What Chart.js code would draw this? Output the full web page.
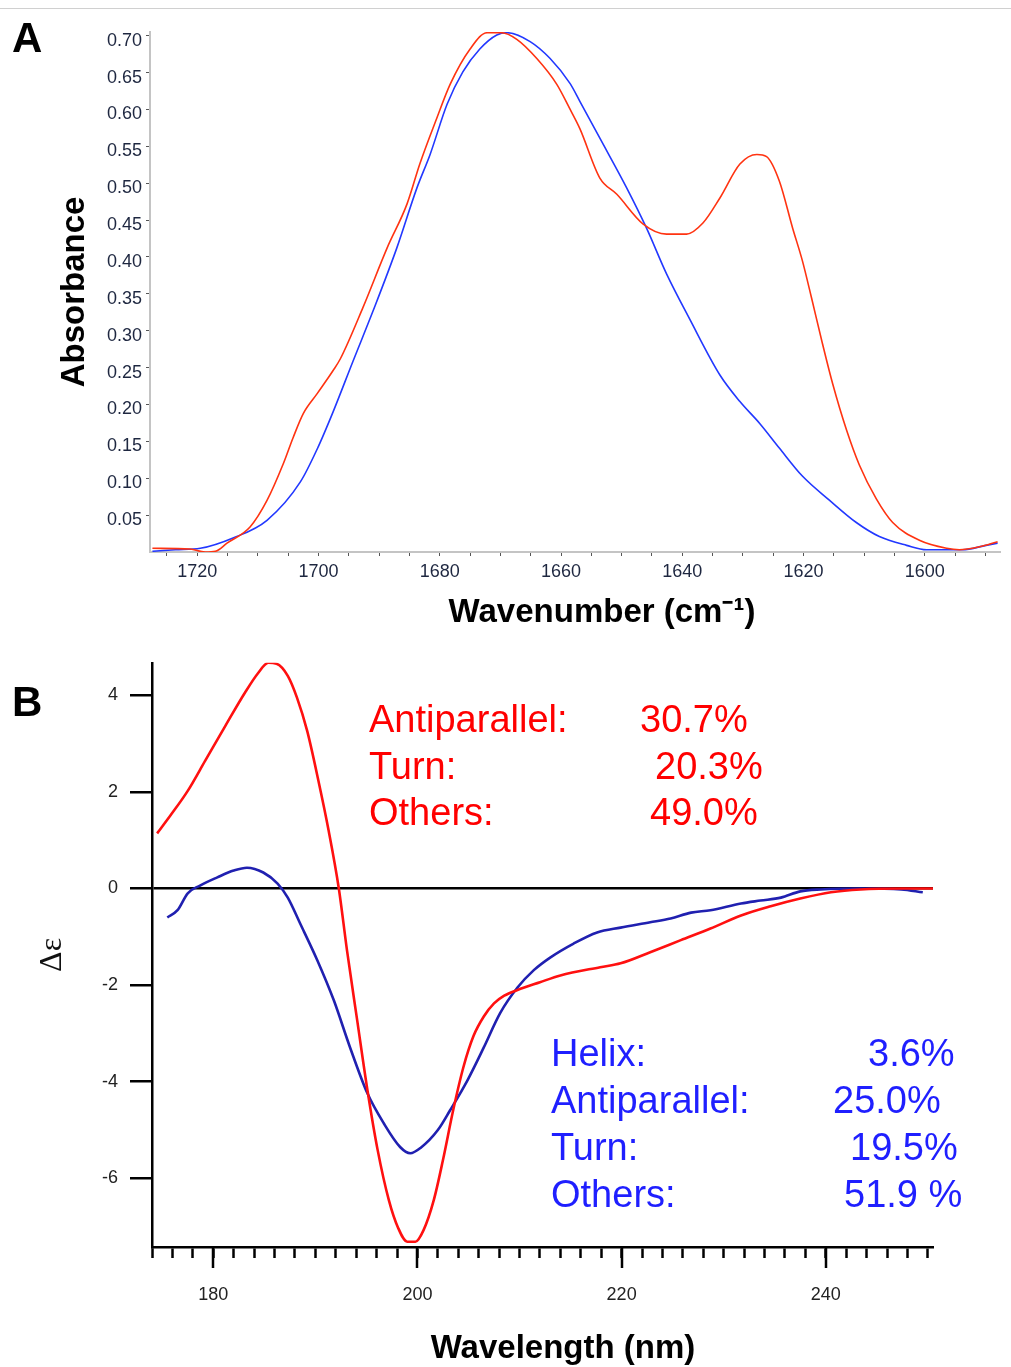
<!DOCTYPE html>
<html>
<head>
<meta charset="utf-8">
<script src="https://cdn.jsdelivr.net/npm/chart.js@4.4.1/dist/chart.umd.min.js"></script>
<style>
  body { margin: 0; background: #fff; width: 1011px; height: 1367px; position: relative; overflow: hidden; }
  .rule { position: absolute; left: 0; top: 8px; width: 1011px; height: 0; border-top: 1.5px solid #d0d0d0; }
  .panel { position: absolute; left: 12px; font: bold 42px "Liberation Sans", Arial, sans-serif; color: #000; }
  #boxA { position: absolute; left: 0; top: 0; width: 1011px; height: 635px; }
  #boxB { position: absolute; left: 0; top: 640px; width: 1011px; height: 727px; }
</style>
</head>
<body>
<div class="rule"></div>
<div id="boxA"><canvas id="irChart" width="1011" height="635"></canvas></div>
<div id="boxB"><canvas id="cdChart" width="1011" height="727"></canvas></div>
<div class="panel" style="top:14px">A</div>
<div class="panel" style="top:678px">B</div>

<script>
// panel A - FTIR amide I
const irRedWavenumber = [1727.4,1721.2,1718.7,1717.0,1715.1,1711.3,1708.5,1705.8,1704.2,1702.5,1700.2,1697.6,1696.4,1692.7,1688.7,1685.4,1683.3,1680.5,1678.3,1675.0,1672.2,1669.8,1667.3,1664.0,1660.7,1658.5,1656.9,1653.6,1650.8,1646.5,1642.6,1639.3,1636.6,1633.8,1630.5,1627.7,1626.1,1624.0,1621.8,1620.2,1618.7,1616.9,1615.2,1612.9,1610.8,1608.0,1605.3,1600.9,1596.4,1594.3,1591.0,1588.0];
const irRedAbs = [0.005,0.004,0.000,0.001,0.012,0.034,0.070,0.120,0.155,0.188,0.215,0.246,0.262,0.331,0.412,0.472,0.526,0.588,0.634,0.682,0.704,0.704,0.695,0.669,0.634,0.600,0.574,0.507,0.485,0.445,0.431,0.431,0.446,0.480,0.526,0.539,0.536,0.503,0.439,0.395,0.345,0.283,0.228,0.165,0.118,0.072,0.040,0.016,0.005,0.003,0.007,0.014];
const irBlueWavenumber = [1727.4,1723.6,1719.5,1714.1,1708.5,1703.0,1700.2,1697.6,1694.3,1691.0,1687.1,1683.8,1681.6,1678.8,1676.2,1673.4,1670.6,1668.9,1665.1,1661.8,1658.5,1656.9,1653.6,1649.2,1645.9,1642.6,1638.8,1633.8,1630.5,1627.2,1624.0,1620.2,1615.7,1611.3,1607.5,1603.0,1599.7,1593.8,1589.9,1588.0];
const irBlueAbs = [0.001,0.003,0.005,0.019,0.043,0.095,0.140,0.190,0.259,0.327,0.412,0.493,0.539,0.607,0.651,0.682,0.701,0.704,0.692,0.669,0.635,0.611,0.561,0.494,0.439,0.377,0.316,0.240,0.204,0.174,0.141,0.103,0.070,0.040,0.021,0.009,0.003,0.003,0.009,0.012];
const irXTicks = [1720, 1700, 1680, 1660, 1640, 1620, 1600];
const irYTicks = [0.05,0.10,0.15,0.20,0.25,0.30,0.35,0.40,0.45,0.50,0.55,0.60,0.65,0.70];

// panel B - CD spectra
const cdRedNm = [174.5,175.8,177.5,179.2,181.2,183.1,184.4,185.4,186.2,187.3,188.2,189.2,190.3,191.3,192.3,193.1,194.1,195.1,196.1,197.2,198.1,199.0,199.8,200.6,201.6,202.5,203.5,204.5,205.5,206.5,207.5,208.5,209.8,212.0,214.0,217.9,219.9,222.8,225.8,228.7,231.7,234.6,237.5,240.5,243.4,247.4,250.5];
const cdRedDelta = [1.14,1.51,2.02,2.64,3.37,4.05,4.46,4.67,4.65,4.40,3.95,3.26,2.23,1.20,0.00,-1.28,-2.73,-4.17,-5.41,-6.45,-7.02,-7.31,-7.31,-7.07,-6.45,-5.62,-4.59,-3.70,-3.05,-2.65,-2.38,-2.22,-2.10,-1.94,-1.80,-1.63,-1.55,-1.32,-1.07,-0.83,-0.56,-0.37,-0.21,-0.08,-0.02,0.00,0.00];
const cdBlueNm = [175.5,176.5,177.5,178.7,180.4,182.0,183.3,184.9,186.3,187.3,188.5,190.2,191.8,193.4,195.1,196.7,198.3,199.3,200.3,202.0,203.2,204.9,206.5,208.1,209.8,211.4,213.0,215.3,217.6,219.9,222.8,224.8,226.8,228.7,231.7,233.6,235.6,237.5,239.5,243.4,247.4,249.5];
const cdBlueDelta = [-0.60,-0.45,-0.10,0.06,0.23,0.37,0.43,0.33,0.10,-0.19,-0.72,-1.49,-2.31,-3.29,-4.24,-4.86,-5.35,-5.48,-5.37,-5.00,-4.59,-3.97,-3.29,-2.58,-2.05,-1.69,-1.43,-1.14,-0.91,-0.81,-0.70,-0.62,-0.50,-0.45,-0.31,-0.25,-0.19,-0.06,-0.02,0.00,-0.02,-0.08];
const cdXMajor = [180, 200, 220, 240];
const cdYTicks = [-6, -4, -2, 0, 2, 4];

const redFitNames = ["Antiparallel:", "Turn:", "Others:"];
const redFitValues = ["30.7%", "20.3%", "49.0%"];
const blueFitNames = ["Helix:", "Antiparallel:", "Turn:", "Others:"];
const blueFitValues = ["3.6%", "25.0%", "19.5%", "51.9 %"];

const SANS = '"Liberation Sans", Arial, sans-serif';
Chart.defaults.font.family = SANS;

function pts(xs, ys) {
  return xs.map((x, i) => ({ x: x, y: ys[i] }));
}

// x-axis title drawn at a set spot (the original is not centred on the plot)
const xTitle = {
  id: 'xTitle',
  afterDraw(chart, args, opts) {
    const ctx = chart.ctx;
    ctx.save();
    ctx.font = 'bold 33px ' + SANS;
    ctx.fillStyle = '#000';
    ctx.textAlign = 'center';
    ctx.textBaseline = 'middle';
    ctx.fillText(opts.text, opts.x, opts.y);
    ctx.restore();
  }
};

// ---------- chart A ----------
new Chart(document.getElementById('irChart'), {
  type: 'line',
  data: {
    datasets: [
      { data: pts(irRedWavenumber, irRedAbs), borderColor: '#ff3311', borderWidth: 1.6,
        pointRadius: 0, cubicInterpolationMode: 'monotone' },
      { data: pts(irBlueWavenumber, irBlueAbs), borderColor: '#2238ff', borderWidth: 1.6,
        pointRadius: 0, cubicInterpolationMode: 'monotone' }
    ]
  },
  options: {
    responsive: false,
    animation: false,
    layout: { padding: { left: 0, right: 11, top: 32, bottom: 0 } },
    plugins: {
      legend: { display: false }, tooltip: { enabled: false },
      xTitle: { text: 'Wavenumber (cm\u207B\u00B9)', x: 602, y: 613 }
    },
    scales: {
      x: {
        type: 'linear',
        reverse: true,
        min: 1587.6,
        max: 1727.8,
        afterFit: s => { s.height = 83; },
        afterBuildTicks: s => {
          const t = [];
          for (let v = 1725; v >= 1590; v -= 5) t.push({ value: v });
          s.ticks = t;
        },
        border: { color: '#c4c4c4', width: 2 },
        grid: { drawOnChartArea: false, tickLength: 4, tickColor: '#555', tickWidth: 1 },
        ticks: {
          autoSkip: false, maxRotation: 0, minRotation: 0, padding: 5,
          color: '#1e2740', font: { size: 18 },
          callback: v => irXTicks.includes(v) ? String(v) : ''
        }
      },
      y: {
        type: 'linear',
        min: 0,
        max: 0.705,
        afterFit: s => { s.width = 150; },
        afterBuildTicks: s => { s.ticks = irYTicks.map(v => ({ value: v })); },
        border: { color: '#c4c4c4', width: 2 },
        grid: { drawOnChartArea: false, tickLength: 4, tickColor: '#555', tickWidth: 1 },
        ticks: {
          padding: 4, labelOffset: 5, color: '#1e2740', font: { size: 18 },
          callback: v => v.toFixed(2)
        },
        title: {
          display: true, text: 'Absorbance', color: '#000',
          font: { size: 33, weight: 'bold' }, padding: { top: 55, bottom: 0 }
        }
      }
    }
  },
  plugins: [xTitle]
});

// ---------- chart B ----------
const cdExtras = {
  id: 'cdExtras',
  afterDraw(chart) {
    const ctx = chart.ctx;
    const xs = chart.scales.x;
    const area = chart.chartArea;
    ctx.save();
    // long ticks at the labelled wavelengths
    ctx.strokeStyle = '#000';
    ctx.lineWidth = 2.5;
    cdXMajor.forEach(v => {
      const px = Math.round(xs.getPixelForValue(v));
      ctx.beginPath();
      ctx.moveTo(px, area.bottom);
      ctx.lineTo(px, area.bottom + 21);
      ctx.stroke();
    });
    // fitted secondary structure text
    ctx.font = '38px ' + SANS;
    ctx.textBaseline = 'alphabetic';
    ctx.textAlign = 'left';
    ctx.fillStyle = '#ff0000';
    const redValX = [640, 655, 650];
    redFitNames.forEach((s, i) => {
      const y = 92 + i * 46.5;
      ctx.fillText(s, 369, y);
      ctx.fillText(redFitValues[i], redValX[i], y);
    });
    ctx.fillStyle = '#1f1fff';
    const blueValX = [868, 833, 850, 844];
    blueFitNames.forEach((s, i) => {
      const y = 426 + i * 47;
      ctx.fillText(s, 551, y);
      ctx.fillText(blueFitValues[i], blueValX[i], y);
    });
    ctx.restore();
  }
};

new Chart(document.getElementById('cdChart'), {
  type: 'line',
  data: {
    datasets: [
      { data: pts(cdRedNm, cdRedDelta), borderColor: '#ff1010', borderWidth: 2.6,
        pointRadius: 0, cubicInterpolationMode: 'monotone' },
      { data: pts(cdBlueNm, cdBlueDelta), borderColor: '#2020b0', borderWidth: 2.6,
        pointRadius: 0, cubicInterpolationMode: 'monotone' }
    ]
  },
  options: {
    responsive: false,
    animation: false,
    layout: { padding: { left: 0, right: 78, top: 22, bottom: 0 } },
    plugins: {
      legend: { display: false }, tooltip: { enabled: false },
      xTitle: { text: 'Wavelength (nm)', x: 563, y: 709 }
    },
    scales: {
      x: {
        type: 'linear',
        min: 174,
        max: 250.5,
        afterFit: s => { s.height = 120; },
        afterBuildTicks: s => {
          const t = [];
          for (let v = 174; v <= 250; v += 2) t.push({ value: v });
          s.ticks = t;
        },
        border: { color: '#000', width: 2.5 },
        grid: { drawOnChartArea: false, tickLength: 11, tickColor: '#000', tickWidth: 2.5 },
        ticks: {
          autoSkip: false, maxRotation: 0, minRotation: 0, padding: 26,
          color: '#222', font: { size: 18 },
          callback: v => cdXMajor.includes(v) ? String(v) : ''
        }
      },
      y: {
        type: 'linear',
        min: -7.42,
        max: 4.67,
        afterFit: s => { s.width = 152; },
        afterBuildTicks: s => { s.ticks = cdYTicks.map(v => ({ value: v })); },
        border: { color: '#000', width: 2.5 },
        grid: {
          drawOnChartArea: true, tickLength: 22, tickColor: '#000', tickWidth: 2.5,
          lineWidth: 2.5,
          color: c => (c.tick && c.tick.value === 0) ? '#000' : 'rgba(0,0,0,0)'
        },
        ticks: { padding: 12, color: '#222', font: { size: 18 }, callback: v => String(v) },
        title: {
          display: true, text: '\u0394\u03B5', color: '#111',
          font: { size: 32, family: '"Liberation Serif", "Times New Roman", serif' },
          padding: { top: 33, bottom: 0 }
        }
      }
    }
  },
  plugins: [cdExtras, xTitle]
});
</script>
</body>
</html>
